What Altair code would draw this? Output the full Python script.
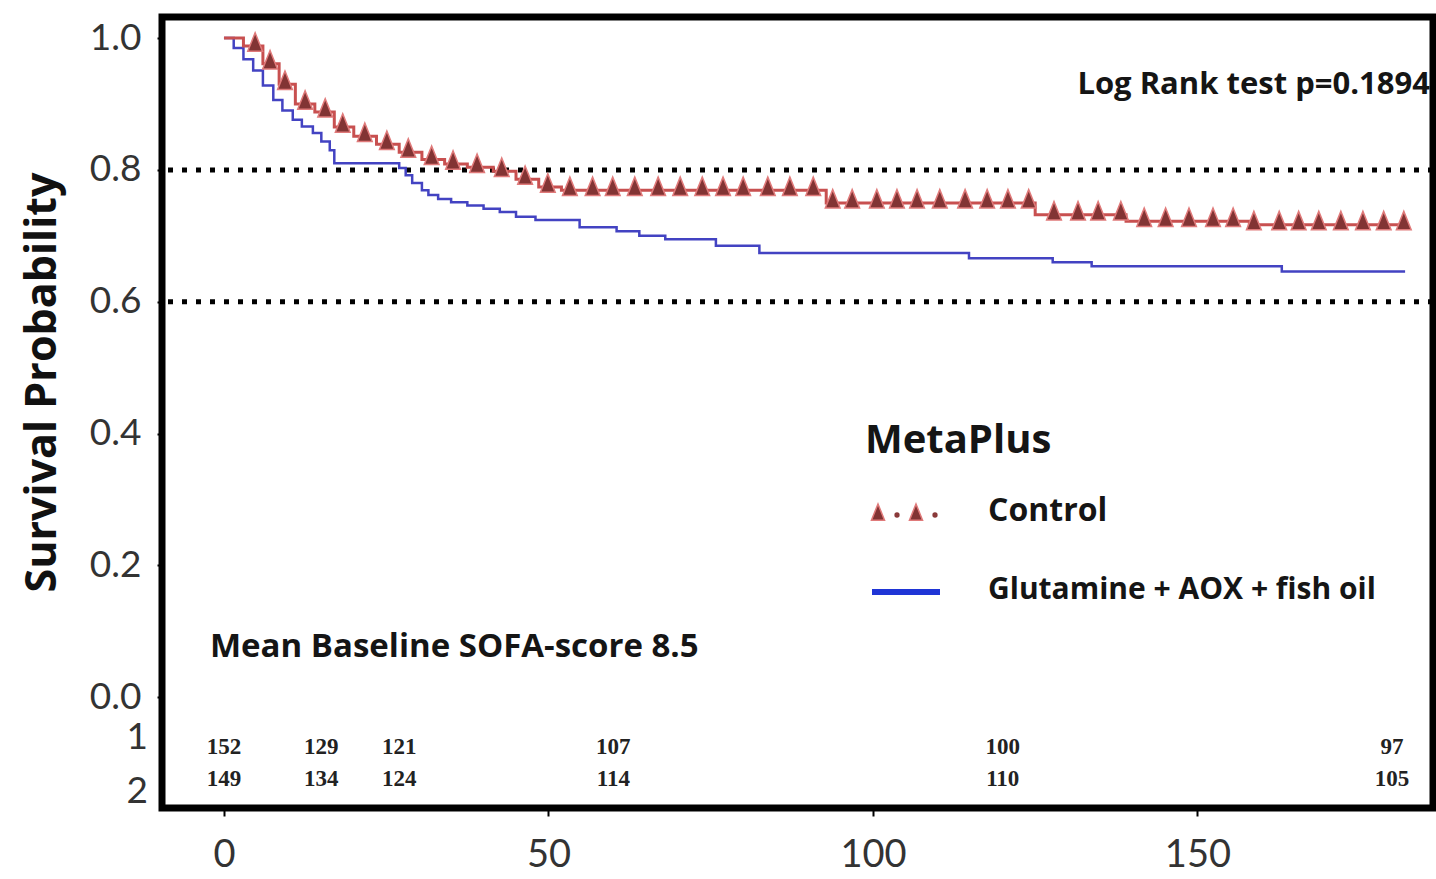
import altair as alt
import pandas as pd
import numpy as np

# ---------------- data ----------------
# Glutamine + AOX + fish oil (blue step curve)
blue_days = [0, 1.5, 3, 4.5, 6, 7.6, 9, 10.6, 12, 13.7, 15, 16.3, 17, 27, 28, 29, 30.5,
             31.5, 33, 35, 37.5, 40, 42.5, 45, 48, 54.8, 60.5, 64, 68, 75.8, 82.5,
             114.8, 127.7, 133.7, 163, 182]
blue_surv = [1.0, 0.985, 0.968, 0.951, 0.928, 0.906, 0.89, 0.876, 0.866, 0.856, 0.843,
             0.830, 0.810, 0.803, 0.792, 0.780, 0.769, 0.762, 0.756, 0.751, 0.746, 0.741,
             0.736, 0.729, 0.724, 0.713, 0.707, 0.700, 0.695, 0.685, 0.674, 0.666,
             0.660, 0.654, 0.646, 0.646]

# Control (red step curve with censor triangles)
red_days = [0, 3, 6, 8.5, 11, 14, 17, 20, 23.5, 27, 30.5, 34, 37.5, 41.5, 45, 48.5, 52,
            92.8, 125, 139, 158, 182]
red_surv = [1.0, 0.988, 0.961, 0.930, 0.900, 0.888, 0.865, 0.851, 0.839, 0.827, 0.816,
            0.809, 0.804, 0.798, 0.786, 0.774, 0.769, 0.750, 0.732, 0.722, 0.717, 0.717]

censor_days = [4.8, 7.1, 9.4, 12.5, 15.6, 18.3, 21.7, 25.1, 28.4, 32.0, 35.3, 39.0, 42.8,
               46.4, 49.9, 53.3, 56.8, 59.9, 63.3, 66.9, 70.3, 73.7, 76.9, 80.0, 83.8,
               87.2, 90.8, 93.8, 96.8, 100.6, 103.7, 106.8, 110.3, 114.2, 117.6, 120.8,
               124.0, 127.9, 131.6, 134.7, 138.2, 141.8, 145.1, 148.7, 152.4, 155.5,
               158.7, 162.6, 165.6, 168.7, 172.1, 175.5, 178.7, 181.8]

risk_days = [0, 15, 27, 60, 120, 180]
risk_row1 = [152, 129, 121, 107, 100, 97]
risk_row2 = [149, 134, 124, 114, 110, 105]
risk_row_labels = ["1", "2"]

y_ticks = [0.0, 0.2, 0.4, 0.6, 0.8, 1.0]
x_ticks = [0, 50, 100, 150]
ref_levels = [0.8, 0.6]

series_names = ["Control", "Glutamine + AOX + fish oil"]
title_legend = "MetaPlus"
logrank_text = "Log Rank test p=0.1894"
sofa_text = "Mean Baseline SOFA-score 8.5"
y_title = "Survival Probability"

# ---------------- tables ----------------
blue_df = pd.DataFrame({"day": blue_days, "surv": blue_surv})
red_df = pd.DataFrame({"day": red_days, "surv": red_surv})
idx = np.searchsorted(np.array(red_days), np.array(censor_days), side="right") - 1
cens_df = pd.DataFrame({"day": censor_days, "surv": [red_surv[i] for i in idx]})
ref_df = pd.DataFrame({"level": ref_levels})
risk1_df = pd.DataFrame({"day": risk_days, "n": [str(v) for v in risk_row1]})
risk2_df = pd.DataFrame({"day": risk_days, "n": [str(v) for v in risk_row2]})
one = pd.DataFrame({"k": [0]})

FONT = "Lato"
BFONT = "Open Sans"
W, H = 1271, 791
TRI = "M0,-1L0.72,0.8L-0.72,0.8Z"

xs = alt.Scale(domain=[-9.55, 186.3], nice=False, zero=False)
ys = alt.Scale(domain=[-0.168, 1.032], nice=False, zero=False)
xaxis = alt.Axis(values=x_ticks, title=None, domain=False, grid=False, tickSize=8,
                 tickWidth=2, tickColor="black", labelFontSize=38, labelFont=FONT,
                 labelColor="#333333", labelPadding=20, format="d")
yaxis = alt.Axis(values=y_ticks, title=y_title, domain=False, grid=False, tickSize=5,
                 tickWidth=2, tickColor="black", labelFontSize=37, labelFont=FONT,
                 labelColor="#333333", labelPadding=16, format=".1f",
                 titleFont=BFONT, titleFontSize=43, titleFontWeight="bold",
                 titleColor="#111111", titleX=-120, titleY=365, titleAngle=-90,
                 titleAlign="center", titleBaseline="middle")


def X(field):
    return alt.X(field, type="quantitative", scale=xs, axis=xaxis)


def Y(field):
    return alt.Y(field, type="quantitative", scale=ys, axis=yaxis)


ref = alt.Chart(ref_df).mark_rule(color="black", strokeWidth=5, strokeDash=[5, 9]).encode(
    y=Y("level")
)

blue_line = alt.Chart(blue_df).mark_line(interpolate="step-after", color="#4343c2",
                                         strokeWidth=2.5).encode(x=X("day"), y=Y("surv"))
red_line = alt.Chart(red_df).mark_line(interpolate="step-after", color="#c85050",
                                       strokeWidth=3).encode(x=X("day"), y=Y("surv"))
tri = alt.Chart(cens_df).mark_point(shape=TRI, filled=True, fill="#823434",
                                    stroke="#e07a7a", strokeWidth=1.5, opacity=1,
                                    size=420, yOffset=-3).encode(x=X("day"), y=Y("surv"))

risk_style = dict(font="Liberation Serif", fontWeight="bold", fontSize=23,
                  color="#222222", baseline="middle")
risk1 = alt.Chart(risk1_df).mark_text(**risk_style).encode(
    x=X("day"), y=alt.value(730), text="n:N")
risk2 = alt.Chart(risk2_df).mark_text(**risk_style).encode(
    x=X("day"), y=alt.value(762), text="n:N")

row_style = dict(font=FONT, fontSize=37, color="#333333", align="right", baseline="middle")
row1_lab = alt.Chart(one).mark_text(**row_style).encode(
    x=alt.value(-14), y=alt.value(721), text=alt.value(risk_row_labels[0]))
row2_lab = alt.Chart(one).mark_text(**row_style).encode(
    x=alt.value(-14), y=alt.value(775), text=alt.value(risk_row_labels[1]))


def label(txt, px, py, size, align="left", weight="bold", color="#151515"):
    return alt.Chart(one).mark_text(font=BFONT, fontSize=size, fontWeight=weight,
                                    color=color, align=align, baseline="middle").encode(
        x=alt.value(px), y=alt.value(py), text=alt.value(txt))


logrank = label(logrank_text, 1268, 68, 31, align="right")
sofa = label(sofa_text, 48, 630, 33)
leg_title = label(title_legend, 703, 424, 40)
leg_ctrl = label(series_names[0], 826, 494, 32)
leg_trt = label(series_names[1], 826, 573, 30)

leg_tri = alt.Chart(one).mark_point(shape=TRI, filled=True, fill="#823434",
                                    stroke="#e07a7a", strokeWidth=1.5, opacity=1, size=330)
leg_tri1 = leg_tri.encode(x=alt.value(716), y=alt.value(496))
leg_tri2 = leg_tri.encode(x=alt.value(754), y=alt.value(496))
leg_dot = alt.Chart(one).mark_point(shape="circle", filled=True, fill="#8a3a3a",
                                    opacity=1, size=28)
leg_dot1 = leg_dot.encode(x=alt.value(735), y=alt.value(498))
leg_dot2 = leg_dot.encode(x=alt.value(773), y=alt.value(498))
leg_line = alt.Chart(one).mark_rule(color="#1f35d6", strokeWidth=6).encode(
    x=alt.value(710), x2=alt.value(778), y=alt.value(575))

chart = alt.layer(
    ref, blue_line, red_line, tri, risk1, risk2, row1_lab, row2_lab,
    logrank, sofa, leg_title, leg_ctrl, leg_trt,
    leg_tri1, leg_tri2, leg_dot1, leg_dot2, leg_line,
).properties(
    width=W, height=H,
    autosize=alt.AutoSizeParams(type="none"),
    padding={"left": 162, "top": 17, "right": 3, "bottom": 71},
    background="white",
).configure_view(
    stroke="black", strokeWidth=7
)

chart.save("out.html", embed_options={"renderer": "svg", "actions": False})
